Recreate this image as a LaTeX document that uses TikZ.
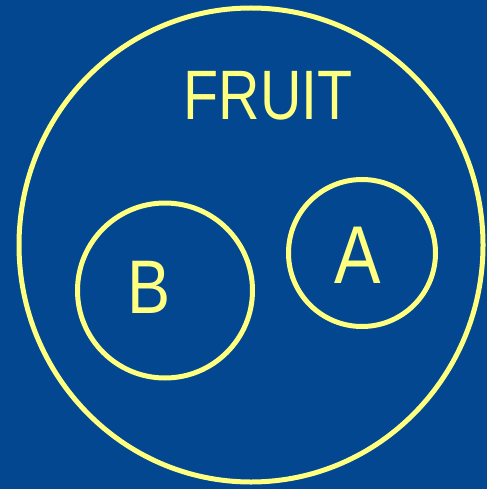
\documentclass[tikz,border=0pt]{standalone}
\usepackage{fontspec}
\setmainfont{Liberation Sans}
\definecolor{bgblue}{RGB}{4,71,145}
\definecolor{chalk}{RGB}{255,255,128}
\begin{document}
\begin{tikzpicture}[x=1pt,y=-1pt,
  ring/.style={draw=chalk,line width=5pt},
  hand/.style={text=chalk,inner sep=0pt,anchor=center}]
\fill[bgblue] (0,0) rectangle (487,489);
\useasboundingbox (0,0) rectangle (487,489);
\draw[ring] (251,245) ellipse [x radius=232, y radius=237];
\draw[ring] (165,290.5) circle [radius=87.5];
\draw[ring] (362,253) circle [radius=73.5];
\node[hand] (fruit) at (268,96) {\scalebox{0.82}[1]{\fontsize{70}{70}\selectfont FRUIT}};
\node[hand] (b) at (149,287) {\scalebox{0.85}[1]{\fontsize{76}{76}\selectfont B}};
\node[hand] (a) at (358,255) {\scalebox{0.85}[1]{\fontsize{82}{82}\selectfont A}};
\end{tikzpicture}
\end{document}
